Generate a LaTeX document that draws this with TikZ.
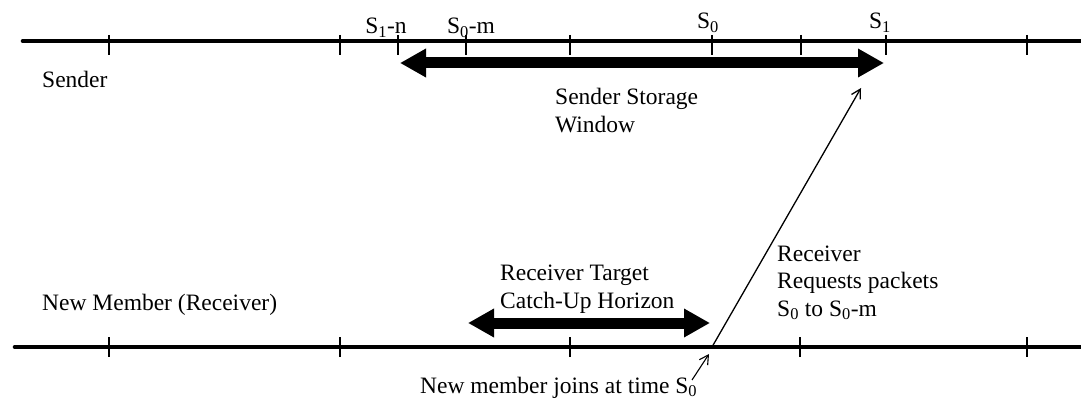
\documentclass[tikz,border=0pt]{standalone}
\usepackage{fontspec}
\setmainfont{Liberation Serif}
\usetikzlibrary{arrows.meta,positioning}

\begin{document}
\begin{tikzpicture}[x=1pt,y=-1pt,
    lbl/.style={inner sep=0pt,font=\fontsize{23.5}{27.5}\selectfont},
    timeline/.style={line width=4.6pt,line cap=round},
    tick/.style={line width=1.8pt},
    window/.style={line width=11pt,{Triangle[length=26pt,width=27pt]}-{Triangle[length=26pt,width=27pt]}},
    request/.style={line width=1.3pt,-{Straight Barb[length=9pt,width=10pt]}}]
    \useasboundingbox (0,0) rectangle (1081,401);

    % time lines
    \coordinate (sndA) at (23,41);
    \coordinate (sndB) at (1090,41);
    \coordinate (rcvA) at (15,347);
    \coordinate (rcvB) at (1090,347);
    \draw[timeline] (sndA) -- (sndB);
    \draw[timeline] (rcvA) -- (rcvB);
    \foreach \x in {109,340,398,466,570,712,801,886,1027}
      \draw[tick] (\x,35) -- (\x,55);
    \foreach \x in {109,340,570,800,1027}
      \draw[tick] (\x,337) -- (\x,357);

    % sequence labels
    \node[lbl,anchor=base] (s1n) at (386,34) {S\textsubscript{1}-n};
    \node[lbl,anchor=base] (s0m) at (471,34) {S\textsubscript{0}-m};
    \node[lbl,anchor=base] (s0) at (708,29) {S\textsubscript{0}};
    \node[lbl,anchor=base] (s1) at (880,29) {S\textsubscript{1}};

    \node[lbl,anchor=base west] (snd) at (42,88) {Sender};
    \node[lbl,anchor=base west] (rcv) at (42,310) {New Member (Receiver)};

    % windows (base = last line)
    \coordinate (swL) at (400,63);
    \coordinate (swR) at (884,63);
    \draw[window] (swL) -- (swR);
    \node[lbl,anchor=base west,align=left] (swlbl) at (555,132)
      {Sender Storage\\Window};

    \coordinate (rwL) at (468,323);
    \coordinate (rwR) at (710,323);
    \draw[window] (rwL) -- (rwR);
    \node[lbl,anchor=base west,align=left] (rwlbl) at (500,308)
      {Receiver Target\\Catch-Up Horizon};

    % request
    \coordinate (join) at (712,347);
    \coordinate (req) at (861,88);
    \draw[request] (join) -- (req);
    \node[lbl,anchor=base west,align=left] (reqlbl) at (777,316)
      {Receiver\\Requests packets\\S\textsubscript{0} to S\textsubscript{0}-m};

    \node[lbl,anchor=base west] (joinlbl) at (420,393)
      {New member joins at time S\textsubscript{0}};
    \coordinate (jfrom) at (692,380);
    \coordinate (jtip) at (709,354);
    \draw[request,line width=1.1pt] (jfrom) -- (jtip);
\end{tikzpicture}
\end{document}
